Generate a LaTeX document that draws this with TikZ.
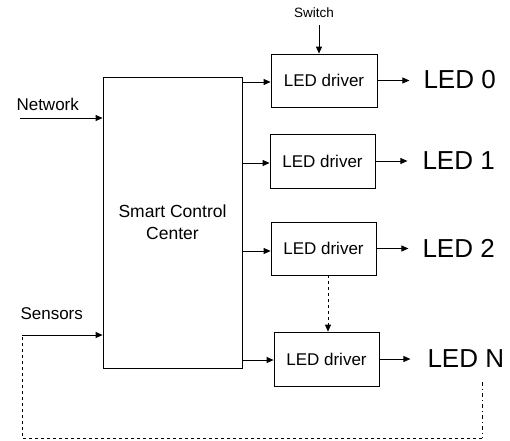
\documentclass[tikz,border=0pt]{standalone}
\usepackage{fontspec}
\setmainfont{Liberation Sans}
\usetikzlibrary{arrows.meta}
\begin{document}
\begin{tikzpicture}[x=1pt,y=-1pt,
  box/.style={draw,line width=0.8pt,inner sep=0pt},
  arr/.style={-{Triangle[length=7pt,width=6pt]},line width=0.8pt},
  drv/.style={font=\fontsize{17}{19}\selectfont},
  led/.style={font=\fontsize{26}{28}\selectfont,anchor=west},
  lbl/.style={font=\fontsize{17}{19}\selectfont}]
\useasboundingbox (0,0) rectangle (510,440);
\node[box,minimum width=139pt,minimum height=291pt,align=center,font=\fontsize{17.5}{22}\selectfont] (scc) at (172.5,222.5) {Smart Control\\Center};
\node[box,minimum width=106pt,minimum height=53pt,drv] (d0) at (324,80.5) {LED driver};
\node[box,minimum width=105pt,minimum height=54pt,drv] (d1) at (322.5,161) {LED driver};
\node[box,minimum width=105pt,minimum height=53pt,drv] (d2) at (323.5,248.5) {LED driver};
\node[box,minimum width=105pt,minimum height=54pt,drv] (dn) at (326.5,359) {LED driver};
\node[led] (l0) at (420,80) {LED 0};
\node[led] (l1) at (419,161) {LED 1};
\node[led] (l2) at (419,248) {LED 2};
\node[led] (ln) at (424,359) {LED N};
\node[font=\fontsize{13.5}{15}\selectfont] (sw) at (314,13) {Switch};
\node[lbl,anchor=west] (net) at (13,104) {Network};
\node[lbl,anchor=west] (sen) at (17,314) {Sensors};
\coordinate (netS) at (20,118);
\coordinate (senS) at (22,335);
\coordinate (b1) at (22,438);
\coordinate (b2) at (482,438);
\coordinate (b3) at (482,382);
% inputs
\draw[arr] (netS) -- (netS -| scc.west);
\draw[arr] (senS) -- (senS -| scc.west);
\draw[arr] (319,25) coordinate (swS) -- (swS |- d0.north);
% scc to drivers
\draw[arr] (scc.east |- 0,82) -- (d0.west |- 0,82);
\draw[arr] (scc.east |- 0,163) -- (d1.west |- 0,163);
\draw[arr] (scc.east |- 0,251) -- (d2.west |- 0,251);
\draw[arr] (scc.east |- 0,360) -- (dn.west |- 0,360);
% drivers to LEDs
\draw[arr] (d0.east) -- ++(32,0);
\draw[arr] (d1.east) -- ++(32,0);
\draw[arr] (d2.east) -- ++(32,0);
\draw[arr] (dn.east) -- ++(31,0);
% dashed
\draw[arr,dashed] (d2.south -| 328,0) -- (dn.north -| 328,0);
\draw[line width=0.8pt,dash pattern=on 4pt off 3pt on 1pt off 3pt] (b3) -- (b2);
\draw[line width=0.8pt,dashed] (b2) -- (b1) -- (senS);
\end{tikzpicture}
\end{document}
